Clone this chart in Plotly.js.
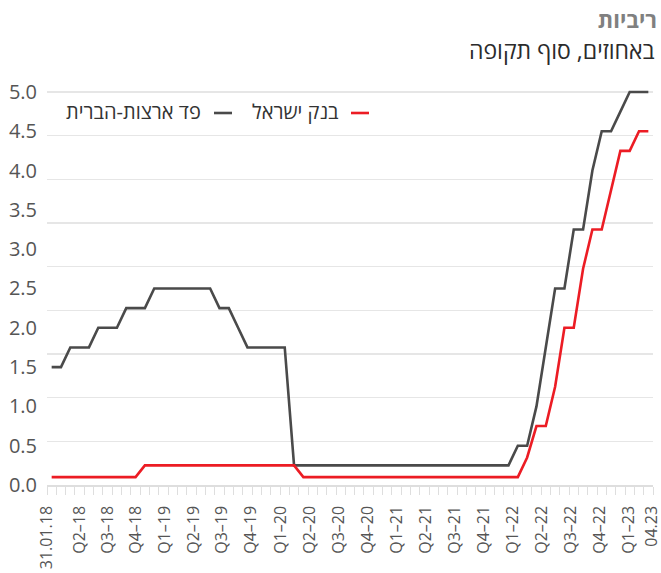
<!DOCTYPE html>
<html><head><meta charset="utf-8">
<script src="https://cdn.plot.ly/plotly-3.0.1.min.js"></script>
<style>html,body{margin:0;padding:0;background:#fff;}#chart{width:661px;height:573px;}</style>
</head><body><div id="chart"></div>
<script>
// Monthly series, 31.01.18 ... 04.23 (end of period, %)
const fedRate = [
  1.5,1.5,1.75,1.75,1.75,2.0,2.0,2.0,2.25,2.25,2.25,2.5,
  2.5,2.5,2.5,2.5,2.5,2.5,2.25,2.25,2.0,1.75,1.75,1.75,
  1.75,1.75,0.25,0.25,0.25,0.25,0.25,0.25,0.25,0.25,0.25,0.25,
  0.25,0.25,0.25,0.25,0.25,0.25,0.25,0.25,0.25,0.25,0.25,0.25,
  0.25,0.25,0.5,0.5,1.0,1.75,2.5,2.5,3.25,3.25,4.0,4.5,
  4.5,4.75,5.0,5.0,5.0
];
const boiRate = [
  0.1,0.1,0.1,0.1,0.1,0.1,0.1,0.1,0.1,0.1,0.25,0.25,
  0.25,0.25,0.25,0.25,0.25,0.25,0.25,0.25,0.25,0.25,0.25,0.25,
  0.25,0.25,0.25,0.1,0.1,0.1,0.1,0.1,0.1,0.1,0.1,0.1,
  0.1,0.1,0.1,0.1,0.1,0.1,0.1,0.1,0.1,0.1,0.1,0.1,
  0.1,0.1,0.1,0.35,0.75,0.75,1.25,2.0,2.0,2.75,3.25,3.25,
  3.75,4.25,4.25,4.5,4.5
];
const tickLabels = ["31.01.18","Q2–18","Q3–18","Q4–18","Q1–19","Q2–19","Q3–19","Q4–19","Q1–20","Q2–20","Q3–20","Q4–20","Q1–21","Q2–21","Q3–21","Q4–21","Q1–22","Q2–22","Q3–22","Q4–22","Q1–23","04.23"];
const tickPositions = [-0.5,3,6.05,9.0,12.1,15.2,18.3,21.4,24.6,27.7,30.8,33.9,37.0,40.1,43.2,46.3,49.5,52.6,55.7,58.8,61.9,64.35];
const seriesNames = ["פד ארצות-הברית","בנק ישראל"];
const titleText = "ריביות";
const subtitleText = "באחוזים, סוף תקופה";

const xIdx = fedRate.map((_, i) => i);
const FONT = "Open Sans, Liberation Sans, DejaVu Sans, sans-serif";
const GREY = "#4a4a4a", RED = "#ec1c24";

const traces = [
  {x: xIdx, y: fedRate, type: "scatter", mode: "lines", name: seriesNames[0],
   line: {color: GREY, width: 2.6}, showlegend: false, hoverinfo: "skip"},
  {x: xIdx, y: boiRate, type: "scatter", mode: "lines", name: seriesNames[1],
   line: {color: RED, width: 2.6}, showlegend: false, hoverinfo: "skip"},
  {x: [], y: [], yaxis: "y2", type: "scatter", mode: "lines", showlegend: false, hoverinfo: "skip"}
];

const layout = {
  width: 661, height: 573,
  margin: {l: 47, r: 8, t: 88, b: 88},
  paper_bgcolor: "#fff", plot_bgcolor: "#fff",
  font: {family: FONT, color: "#555"},
  title: {text: "<b>" + titleText + "</b>", font: {family: FONT, size: 22, color: "#808080"},
          xref: "container", yref: "container", x: 657/661, xanchor: "right", y: 1 - 20/573, yanchor: "middle"},
  xaxis: {
    type: "linear", range: [-0.5, 64.5], fixedrange: true,
    tickmode: "array", tickvals: tickPositions, ticktext: tickLabels,
    tickangle: -90, ticks: "", ticklabelstandoff: 13, ticklabeloverflow: "allow",
    tickfont: {family: FONT, size: 16, color: "#555"},
    showgrid: false, zeroline: false,
    showline: true, linecolor: "#dedede", linewidth: 1.5,
    minor: {tick0: -0.5, dtick: 1, ticks: "outside", ticklen: 8, tickcolor: "#dedede", tickwidth: 1, showgrid: false}
  },
  yaxis: {
    range: [0, 5.05], fixedrange: true, tick0: 0, dtick: 0.5, tickformat: ".1f",
    ticks: "", ticklabelstandoff: 9, showgrid: false, zeroline: false, showline: false,
    tickfont: {family: FONT, size: 20, color: "#555"}
  },
  yaxis2: {
    overlaying: "y", range: [0, 5.05], fixedrange: true, tick0: 0, dtick: 5/9,
    showgrid: true, gridcolor: "#e6e6e6", gridwidth: 1.5,
    showticklabels: false, ticks: "", zeroline: false, showline: false
  },
  annotations: [
    {text: subtitleText, xref: "paper", yref: "paper", x: (657-47)/606, y: (485-50)/397,
     xanchor: "right", yanchor: "middle", showarrow: false, font: {family: FONT, size: 23, color: "#2b2b2b"}},
    {text: seriesNames[1], xref: "paper", yref: "paper", x: (341-47)/606, y: (485-111)/397,
     xanchor: "right", yanchor: "middle", showarrow: false, font: {family: FONT, size: 20, color: "#333"}},
    {text: seriesNames[0], xref: "paper", yref: "paper", x: (203-47)/606, y: (485-111)/397,
     xanchor: "right", yanchor: "middle", showarrow: false, font: {family: FONT, size: 20, color: "#333"}}
  ],
  shapes: [
    {type: "line", xref: "paper", yref: "paper", x0: (351-47)/606, x1: (369-47)/606,
     y0: (485-113)/397, y1: (485-113)/397, line: {color: RED, width: 2.6}},
    {type: "line", xref: "paper", yref: "paper", x0: (214-47)/606, x1: (232-47)/606,
     y0: (485-113)/397, y1: (485-113)/397, line: {color: GREY, width: 2.6}}
  ]
};

Plotly.newPlot("chart", traces, layout, {staticPlot: true, displayModeBar: false});
</script>
</body></html>
